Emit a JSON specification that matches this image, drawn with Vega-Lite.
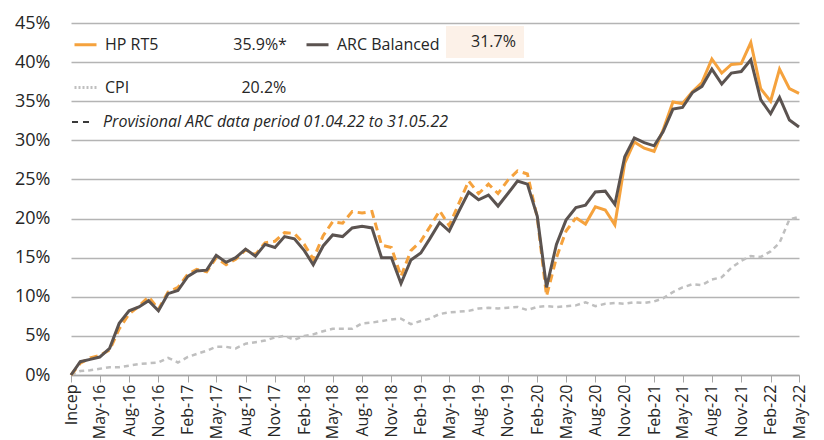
{
  "$schema": "https://vega.github.io/schema/vega-lite/v6.json",
  "width": 728,
  "height": 352,
  "autosize": "none",
  "padding": {"left": 71, "top": 23, "right": 25, "bottom": 65},
  "background": "white",
  "config": {
    "font": "Open Sans",
    "view": {"stroke": null},
    "axis": {"labelFont": "Open Sans", "labelColor": "#262626"},
    "axisY": {
      "values": [0, 5, 10, 15, 20, 25, 30, 35, 40, 45],
      "labelExpr": "datum.value + '%'",
      "labelFontSize": 18,
      "grid": true,
      "gridColor": "#B4B4B4",
      "gridWidth": 1.5,
      "domain": false,
      "ticks": false,
      "labelPadding": 21,
      "labelOverlap": false
    },
    "legend": {"labelFont": "Open Sans", "labelColor": "#262626"}
  },
  "datasets": {
    "perf": [
      {"m": "2016-02-01", "hp": 0.0, "arc": 0.0, "cpi": 0.0},
      {"m": "2016-03-01", "hp": 1.5, "arc": 1.7, "cpi": 0.5},
      {"m": "2016-04-01", "hp": 2.2, "arc": 2.0, "cpi": 0.6},
      {"m": "2016-05-01", "hp": 2.5, "arc": 2.3, "cpi": 0.8},
      {"m": "2016-06-01", "hp": 3.2, "arc": 3.4, "cpi": 1.0},
      {"m": "2016-07-01", "hp": 5.9, "arc": 6.6, "cpi": 1.0},
      {"m": "2016-08-01", "hp": 7.8, "arc": 8.2, "cpi": 1.2},
      {"m": "2016-09-01", "hp": 8.8, "arc": 8.7, "cpi": 1.4},
      {"m": "2016-10-01", "hp": 10.0, "arc": 9.5, "cpi": 1.5},
      {"m": "2016-11-01", "hp": 8.4, "arc": 8.2, "cpi": 1.6},
      {"m": "2016-12-01", "hp": 10.6, "arc": 10.4, "cpi": 2.2},
      {"m": "2017-01-01", "hp": 11.2, "arc": 10.8, "cpi": 1.6},
      {"m": "2017-02-01", "hp": 12.9, "arc": 12.6, "cpi": 2.3},
      {"m": "2017-03-01", "hp": 13.5, "arc": 13.3, "cpi": 2.7},
      {"m": "2017-04-01", "hp": 13.2, "arc": 13.4, "cpi": 3.1},
      {"m": "2017-05-01", "hp": 15.0, "arc": 15.3, "cpi": 3.6},
      {"m": "2017-06-01", "hp": 14.1, "arc": 14.4, "cpi": 3.6},
      {"m": "2017-07-01", "hp": 14.8, "arc": 15.0, "cpi": 3.4},
      {"m": "2017-08-01", "hp": 16.0, "arc": 16.1, "cpi": 4.0},
      {"m": "2017-09-01", "hp": 15.4, "arc": 15.2, "cpi": 4.2},
      {"m": "2017-10-01", "hp": 16.9, "arc": 16.7, "cpi": 4.4},
      {"m": "2017-11-01", "hp": 17.1, "arc": 16.3, "cpi": 4.8},
      {"m": "2017-12-01", "hp": 18.2, "arc": 17.7, "cpi": 5.0},
      {"m": "2018-01-01", "hp": 18.1, "arc": 17.4, "cpi": 4.5},
      {"m": "2018-02-01", "hp": 16.7, "arc": 15.9, "cpi": 5.0},
      {"m": "2018-03-01", "hp": 14.8, "arc": 14.1, "cpi": 5.2},
      {"m": "2018-04-01", "hp": 17.8, "arc": 16.5, "cpi": 5.6},
      {"m": "2018-05-01", "hp": 19.6, "arc": 17.9, "cpi": 5.9},
      {"m": "2018-06-01", "hp": 19.4, "arc": 17.7, "cpi": 5.9},
      {"m": "2018-07-01", "hp": 20.9, "arc": 18.8, "cpi": 5.9},
      {"m": "2018-08-01", "hp": 20.7, "arc": 19.0, "cpi": 6.6},
      {"m": "2018-09-01", "hp": 20.9, "arc": 18.8, "cpi": 6.7},
      {"m": "2018-10-01", "hp": 16.6, "arc": 15.0, "cpi": 6.9},
      {"m": "2018-11-01", "hp": 16.3, "arc": 15.0, "cpi": 7.1},
      {"m": "2018-12-01", "hp": 12.6, "arc": 11.7, "cpi": 7.2},
      {"m": "2019-01-01", "hp": 15.9, "arc": 14.7, "cpi": 6.5},
      {"m": "2019-02-01", "hp": 17.1, "arc": 15.6, "cpi": 6.9},
      {"m": "2019-03-01", "hp": 18.9, "arc": 17.4, "cpi": 7.2},
      {"m": "2019-04-01", "hp": 21.0, "arc": 19.5, "cpi": 7.8},
      {"m": "2019-05-01", "hp": 19.1, "arc": 18.4, "cpi": 8.0},
      {"m": "2019-06-01", "hp": 22.0, "arc": 21.0, "cpi": 8.1},
      {"m": "2019-07-01", "hp": 24.8, "arc": 23.4, "cpi": 8.2},
      {"m": "2019-08-01", "hp": 23.2, "arc": 22.4, "cpi": 8.5},
      {"m": "2019-09-01", "hp": 24.4, "arc": 23.0, "cpi": 8.6},
      {"m": "2019-10-01", "hp": 23.2, "arc": 21.6, "cpi": 8.5},
      {"m": "2019-11-01", "hp": 24.9, "arc": 23.2, "cpi": 8.6},
      {"m": "2019-12-01", "hp": 26.1, "arc": 24.8, "cpi": 8.7},
      {"m": "2020-01-01", "hp": 25.7, "arc": 24.4, "cpi": 8.3},
      {"m": "2020-02-01", "hp": 20.1, "arc": 20.3, "cpi": 8.7},
      {"m": "2020-03-01", "hp": 10.1, "arc": 11.2, "cpi": 8.8},
      {"m": "2020-04-01", "hp": 15.0, "arc": 16.7, "cpi": 8.7},
      {"m": "2020-05-01", "hp": 18.4, "arc": 19.8, "cpi": 8.8},
      {"m": "2020-06-01", "hp": 20.1, "arc": 21.4, "cpi": 8.9},
      {"m": "2020-07-01", "hp": 19.3, "arc": 21.7, "cpi": 9.3},
      {"m": "2020-08-01", "hp": 21.5, "arc": 23.4, "cpi": 8.8},
      {"m": "2020-09-01", "hp": 21.1, "arc": 23.5, "cpi": 9.1},
      {"m": "2020-10-01", "hp": 19.2, "arc": 21.8, "cpi": 9.2},
      {"m": "2020-11-01", "hp": 27.1, "arc": 27.9, "cpi": 9.1},
      {"m": "2020-12-01", "hp": 29.8, "arc": 30.3, "cpi": 9.3},
      {"m": "2021-01-01", "hp": 29.0, "arc": 29.7, "cpi": 9.2},
      {"m": "2021-02-01", "hp": 28.6, "arc": 29.3, "cpi": 9.4},
      {"m": "2021-03-01", "hp": 31.3, "arc": 31.1, "cpi": 9.8},
      {"m": "2021-04-01", "hp": 34.9, "arc": 34.0, "cpi": 10.6},
      {"m": "2021-05-01", "hp": 34.7, "arc": 34.2, "cpi": 11.2},
      {"m": "2021-06-01", "hp": 36.2, "arc": 36.1, "cpi": 11.6},
      {"m": "2021-07-01", "hp": 37.4, "arc": 36.9, "cpi": 11.5},
      {"m": "2021-08-01", "hp": 40.4, "arc": 39.1, "cpi": 12.2},
      {"m": "2021-09-01", "hp": 38.6, "arc": 37.2, "cpi": 12.5},
      {"m": "2021-10-01", "hp": 39.7, "arc": 38.6, "cpi": 13.7},
      {"m": "2021-11-01", "hp": 39.8, "arc": 38.8, "cpi": 14.6},
      {"m": "2021-12-01", "hp": 42.5, "arc": 40.3, "cpi": 15.2},
      {"m": "2022-01-01", "hp": 36.6, "arc": 35.2, "cpi": 15.1},
      {"m": "2022-02-01", "hp": 35.0, "arc": 33.4, "cpi": 15.8},
      {"m": "2022-03-01", "hp": 39.1, "arc": 35.5, "cpi": 16.9},
      {"m": "2022-04-01", "hp": 36.6, "arc": 32.6, "cpi": 19.9},
      {"m": "2022-05-01", "hp": 36.0, "arc": 31.7, "cpi": 20.2}
    ]
  },
  "encoding": {
    "x": {
      "field": "m",
      "type": "temporal",
      "title": null,
      "scale": {"type": "utc", "nice": false},
      "axis": {
        "values": [
          {"year": 2016, "month": 2, "date": 1, "utc": true},
          {"year": 2016, "month": 5, "date": 1, "utc": true},
          {"year": 2016, "month": 8, "date": 1, "utc": true},
          {"year": 2016, "month": 11, "date": 1, "utc": true},
          {"year": 2017, "month": 2, "date": 1, "utc": true},
          {"year": 2017, "month": 5, "date": 1, "utc": true},
          {"year": 2017, "month": 8, "date": 1, "utc": true},
          {"year": 2017, "month": 11, "date": 1, "utc": true},
          {"year": 2018, "month": 2, "date": 1, "utc": true},
          {"year": 2018, "month": 5, "date": 1, "utc": true},
          {"year": 2018, "month": 8, "date": 1, "utc": true},
          {"year": 2018, "month": 11, "date": 1, "utc": true},
          {"year": 2019, "month": 2, "date": 1, "utc": true},
          {"year": 2019, "month": 5, "date": 1, "utc": true},
          {"year": 2019, "month": 8, "date": 1, "utc": true},
          {"year": 2019, "month": 11, "date": 1, "utc": true},
          {"year": 2020, "month": 2, "date": 1, "utc": true},
          {"year": 2020, "month": 5, "date": 1, "utc": true},
          {"year": 2020, "month": 8, "date": 1, "utc": true},
          {"year": 2020, "month": 11, "date": 1, "utc": true},
          {"year": 2021, "month": 2, "date": 1, "utc": true},
          {"year": 2021, "month": 5, "date": 1, "utc": true},
          {"year": 2021, "month": 8, "date": 1, "utc": true},
          {"year": 2021, "month": 11, "date": 1, "utc": true},
          {"year": 2022, "month": 2, "date": 1, "utc": true},
          {"year": 2022, "month": 5, "date": 1, "utc": true}
        ],
        "labelExpr": "utcFormat(datum.value, '%Y-%m') == '2016-02' ? 'Incep' : utcFormat(datum.value, '%b-%y')",
        "labelAngle": -90,
        "labelAlign": "right",
        "labelBaseline": "middle",
        "labelFontSize": 16,
        "labelPadding": 2,
        "labelFlush": false,
        "labelOverlap": false,
        "labelBound": false,
        "tickColor": "#A6A6A6",
        "tickSize": 7,
        "domainColor": "#A6A6A6",
        "domainWidth": 1.5,
        "grid": false,
        "title": null
      }
    }
  },
  "layer": [
    {
      "data": {"name": "perf"},
      "mark": {"type": "line", "strokeWidth": 2.5, "strokeDash": [5, 4]},
      "encoding": {
        "y": {"field": "cpi", "type": "quantitative", "title": null, "scale": {"domain": [0, 45], "nice": false}},
        "color": {
          "datum": "CPI",
          "scale": {"domain": ["HP RT5", "ARC Balanced", "CPI"], "range": ["#F5A23D", "#5B5350", "#BFBFBF"]},
          "legend": {
            "orient": "none",
            "legendX": 2,
            "legendY": 9,
            "columns": 2,
            "direction": "horizontal",
            "title": null,
            "padding": 0,
            "symbolType": "stroke",
            "symbolSize": 484,
            "symbolStrokeWidth": 3,
            "labelFontSize": 16,
            "labelOffset": 7,
            "labelLimit": 0,
            "columnPadding": 13,
            "rowPadding": 22,
            "labelExpr": "datum.label == 'HP RT5' ? 'HP RT5\u00a0\u00a0\u00a0\u00a0\u00a0\u00a0\u00a0\u00a0\u00a0\u00a0\u00a0\u00a0\u00a0\u00a0\u00a0\u00a0\u00a0\u00a035.9%*' : datum.label == 'ARC Balanced' ? 'ARC Balanced' : 'CPI\u00a0\u00a0\u00a0\u00a0\u00a0\u00a0\u00a0\u00a0\u00a0\u00a0\u00a0\u00a0\u00a0\u00a0\u00a0\u00a0\u00a0\u00a0\u00a0\u00a0\u00a0\u00a0\u00a0\u00a0\u00a0\u00a0\u00a020.2%'",
            "encode": {"symbols": {"update": {"strokeDash": {"signal": "datum.value == 'CPI' ? [2, 2] : [1, 0]"}}}}
          }
        }
      }
    },
    {
      "data": {"name": "perf"},
      "transform": [{"filter": "time(datum.m) <= utc(2020, 5, 1)"}],
      "mark": {"type": "line", "strokeWidth": 3, "strokeDash": [8, 5]},
      "encoding": {
        "y": {"field": "hp", "type": "quantitative", "title": null, "scale": {"domain": [0, 45], "nice": false}},
        "color": {"datum": "HP RT5"}
      }
    },
    {
      "data": {"name": "perf"},
      "transform": [{"filter": "time(datum.m) >= utc(2020, 5, 1)"}],
      "mark": {"type": "line", "strokeWidth": 3},
      "encoding": {
        "y": {"field": "hp", "type": "quantitative", "title": null, "scale": {"domain": [0, 45], "nice": false}},
        "color": {"datum": "HP RT5"}
      }
    },
    {
      "data": {"name": "perf"},
      "mark": {"type": "line", "strokeWidth": 3},
      "encoding": {
        "y": {"field": "arc", "type": "quantitative", "title": null, "scale": {"domain": [0, 45], "nice": false}},
        "color": {"datum": "ARC Balanced"},
        "opacity": {
          "datum": "31.7%",
          "scale": {"range": [1, 1]},
          "legend": {
            "orient": "none",
            "legendX": 375,
            "legendY": 3,
            "title": null,
            "padding": 8,
            "fillColor": "#FCF1E8",
            "symbolType": "stroke",
            "symbolSize": 1,
            "symbolOpacity": 0,
            "symbolStrokeWidth": 0,
            "labelFontSize": 16,
            "labelOffset": 1,
            "labelLimit": 0
          }
        }
      }
    },
    {
      "data": {"values": [{"period": "provisional"}]},
      "mark": {"type": "rule", "color": "#3A3A3A", "strokeWidth": 2},
      "encoding": {
        "x": {"datum": {"year": 2022, "month": 4, "date": 1, "utc": true}, "type": "temporal"},
        "strokeDash": {
          "datum": "Provisional ARC data period 01.04.22 to 31.05.22",
          "scale": {"range": [[6, 5]]},
          "legend": {
            "orient": "none",
            "legendX": 0,
            "legendY": 89,
            "title": null,
            "padding": 0,
            "symbolType": "stroke",
            "symbolSize": 324,
            "symbolStrokeWidth": 2,
            "symbolStrokeColor": "#3A3A3A",
            "labelFontSize": 16,
            "labelFontStyle": "italic",
            "labelOffset": 12,
            "labelLimit": 0
          }
        }
      }
    }
  ]
}
